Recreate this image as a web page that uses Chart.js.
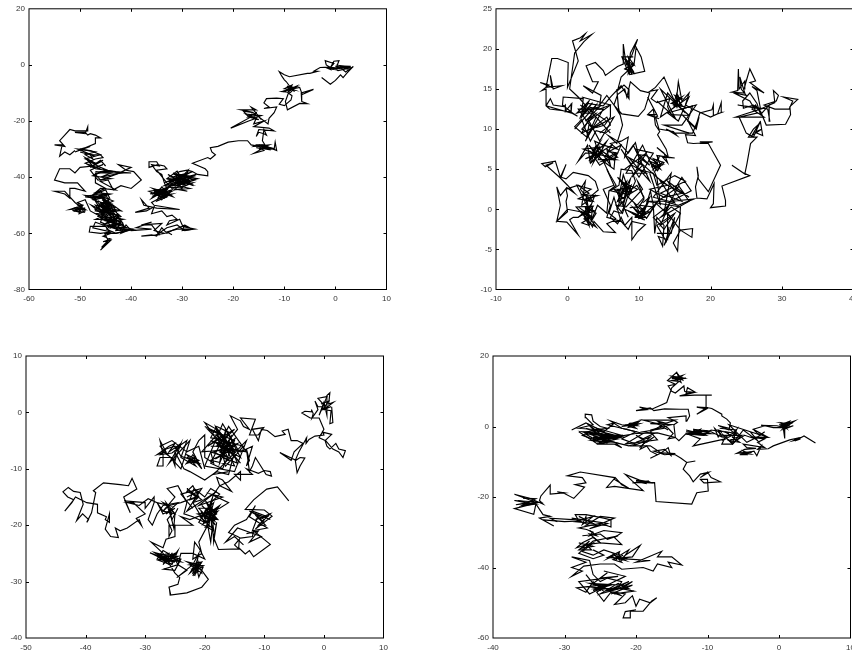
<!DOCTYPE html>
<html><head><meta charset="utf-8">
<script src="https://cdn.jsdelivr.net/npm/chart.js@4"></script>
<style>
html,body{margin:0;padding:0;background:#fff;width:852px;height:657px;overflow:hidden}
canvas{position:absolute}
#wrap{position:relative;width:852px;height:657px;overflow:hidden}
</style></head><body><div id="wrap">
<canvas id="c1"></canvas><canvas id="c2"></canvas><canvas id="c3"></canvas><canvas id="c4"></canvas>
</div>
<script>
const xTicks1=[-60,-50,-40,-30,-20,-10,0,10];
const yTicks1=[-80,-60,-40,-20,0,20];
const xTicks2=[-10,0,10,20,30,40];
const yTicks2=[-10,-5,0,5,10,15,20,25];
const xTicks3=[-50,-40,-30,-20,-10,0,10];
const yTicks3=[-40,-30,-20,-10,0,10];
const xTicks4=[-40,-30,-20,-10,0,10];
const yTicks4=[-60,-40,-20,0,20];

const walk1=[[-2.7,-4.5],[-1,-6.9],[0,-5.5],[1,-3.5],[1.5,-4.5],[2.2,-3],[3.5,-.5],[2,-2.5],[1,-1],[3,-.5],[.3,-.3],[.7,1.5],[-.3,1.3],[-1,-1],[-.3,.5],[-2,1.5],[-1.8,0],[-.5,-1.5],[-2,-.8],[-1,-1.6],[-1.3,-.8],[-3,-.9],[-4.2,-2.2],[-3.5,-2.3],[-5,-3],[-5.5,-3],[-9,-4.2],[-10,-3.5],[-11,-2.4],[-10.5,-4],[-10,-5.3],[-9.6,-6],[-9,-7.5],[-8.3,-8],[-10,-9.5],[-8.5,-7.8],[-9.8,-9.2],[-7.5,-7.5],[-8.8,-9.8],[-10.5,-9.5],[-8.2,-8.5],[-7,-8],[-6.5,-10.5],[-4.3,-8.7],[-6.7,-10],[-6.6,-13],[-5.5,-13.8],[-7,-13.7],[-9.4,-16],[-9.8,-13],[-9.2,-10],[-8.5,-11],[-8.7,-12.5],[-10,-14.5],[-11,-14],[-10.2,-12],[-11.5,-11.8],[-13.5,-12],[-14,-13.5],[-13,-15],[-14,-15.5],[-11.5,-15],[-12,-17],[-13,-19],[-13.2,-21],[-15,-18.5],[-14.5,-19.5],[-16.5,-15],[-15.5,-16],[-18.5,-16],[-16,-17],[-18,-16.5],[-17,-18.5],[-15,-19.5],[-16.5,-18.5],[-20.5,-22.5],[-17,-20],[-15.5,-19],[-16,-21],[-14,-20],[-16,-22],[-13,-22.5],[-12,-23.5],[-15,-23],[-15.5,-25.5],[-15,-24],[-14,-24.5],[-13.5,-25],[-14,-23],[-14.3,-27],[-13.8,-28.5],[-15.5,-28.5],[-16,-29],[-13,-28.5],[-15,-30],[-13.5,-29],[-11.5,-30.5],[-11.8,-27.5],[-12,-30],[-14,-29.5],[-16,-31.5],[-14,-30.5],[-15,-29],[-16.5,-28.5],[-17.2,-27],[-19,-27],[-21,-27.5],[-23,-29],[-24.5,-29.5],[-24.2,-31],[-23.5,-32],[-24.5,-33.5],[-25,-33],[-28,-35],[-25.5,-37],[-25,-38],[-25,-39.5],[-27,-39],[-28,-38],[-29,-37.5],[-30.5,-38],[-31.5,-39],[-29,-39.5],[-32,-41],[-28,-40],[-31,-42.5],[-29,-41],[-33,-40.5],[-28.5,-42],[-30.5,-40],[-32,-43],[-28,-42],[-30,-43.5],[-32.5,-42],[-29,-38.5],[-31,-41],[-30,-44.5],[-29,-45],[-32,-44],[-33,-42],[-35,-37.5],[-33,-37],[-33.5,-36],[-34.8,-35.5],[-36.5,-36.5],[-36.5,-34.5],[-35,-34.5],[-34.5,-36],[-36,-35.5],[-35,-38],[-34,-39],[-33.5,-42],[-33,-44],[-35,-44.5],[-33,-46],[-35.5,-45],[-33,-47],[-34.5,-47.5],[-32,-45],[-36,-46],[-33,-44.5],[-34,-46.5],[-32,-46],[-35,-48],[-36,-49],[-35.5,-50],[-30.5,-51.5],[-35,-51],[-37.5,-50],[-38,-48],[-36.5,-51],[-39.2,-52.5],[-37,-52],[-35.5,-50.5],[-36,-53],[-34,-52],[-33,-54],[-32,-53.5],[-31,-55],[-32.5,-55.5],[-33,-57],[-30.5,-55],[-30,-57],[-28,-58.5],[-29.5,-57],[-30,-59],[-27.5,-58.5],[-30,-57.5],[-32,-59],[-33,-60],[-34,-58],[-35,-61],[-36,-60.5],[-38,-61],[-34.5,-60.5],[-36,-57],[-37.5,-57],[-39,-58],[-36,-58.5],[-40,-59],[-41,-57],[-42,-60],[-40,-58.5],[-43,-59],[-42,-56],[-44,-58],[-42.5,-54],[-44.5,-56],[-41.5,-55],[-45,-54],[-43,-52],[-46,-55],[-43.5,-56],[-46,-52],[-44,-50],[-45.5,-53],[-47,-50],[-42,-52],[-45,-48],[-47,-52],[-44,-53],[-46,-49],[-44.5,-51],[-43,-55],[-45.5,-57],[-47,-56],[-47.5,-58],[-44,-59.5],[-46,-60],[-48.2,-59.5],[-48,-57.5],[-45,-57.5],[-44,-60],[-45.5,-61],[-44,-62],[-45.5,-63],[-44,-62.5],[-46,-66],[-44.5,-63],[-45.8,-65],[-44.5,-62.5],[-45.2,-60],[-43,-60],[-41,-59],[-44,-57],[-42,-57],[-46,-54],[-48,-52],[-49,-48],[-50.5,-49],[-49.5,-50],[-52,-51.5],[-49,-51],[-51,-52],[-50,-50],[-50.2,-53],[-49,-52],[-51,-49],[-52,-47],[-53,-45],[-55,-45],[-53,-46],[-52,-47.5],[-52,-44],[-51,-44],[-49,-45],[-50.5,-42],[-53,-42],[-55,-41],[-54,-37],[-52,-37],[-51,-38.5],[-50,-36.5],[-47.5,-36],[-49,-33],[-47,-35],[-48.5,-34],[-46,-36.5],[-44,-38],[-46,-38],[-47,-39],[-46,-41],[-43,-39],[-40,-36.5],[-42.5,-35.5],[-41,-37.5],[-39.5,-38],[-38,-41],[-40,-44],[-42,-43],[-43.5,-44.5],[-44.5,-41],[-46,-41.5],[-43,-44.5],[-46,-44],[-48,-47],[-46,-45],[-45,-47],[-47,-48],[-49,-46.5],[-46,-47],[-44,-46],[-47,-45.5],[-45,-44],[-47,-42],[-47,-38.5],[-44,-38.5],[-40,-38.5],[-43,-38],[-47,-37],[-48,-36],[-46,-37],[-49,-35],[-47,-33.5],[-45.5,-33],[-46,-32],[-48,-32],[-47.5,-33.5],[-49,-32],[-47,-31],[-50,-30],[-48,-29],[-51,-31],[-49,-29.5],[-47,-28],[-47,-26],[-46,-26],[-47,-25],[-48,-24.5],[-48.5,-25],[-49,-24],[-51,-24],[-49,-24.5],[-48.5,-22],[-48.5,-23.5],[-51,-23.5],[-52,-23],[-53,-25],[-54,-27],[-53,-29],[-55,-28.5],[-53.5,-28.5],[-54,-32.5],[-53,-31],[-52,-32],[-51,-30.5]];
const dense1a=[[-31.5,-39],[-28.5,-41.5],[-32,-40],[-29,-38.5],[-33.5,-42],[-30,-39.5],[-27.5,-41],[-31,-43],[-28,-39.5],[-32.5,-41.5],[-29.5,-42.5],[-31,-37.8],[-33,-40.5],[-28.2,-42.5],[-30.5,-40.5],[-27.2,-39],[-32,-43],[-29.5,-40],[-31.2,-41.8],[-28.8,-37.5],[-30,-43.8],[-33,-43.5],[-29,-41],[-31.8,-38.5],[-27.8,-43],[-30.2,-41.3],[-32.8,-39],[-29.3,-43],[-31,-40.2],[-28,-38],[-33.5,-43],[-30,-42],[-31.5,-44.5],[-28.5,-44],[-32,-42.5],[-30.8,-38.8],[-29,-39.8],[-27,-40.5],[-30.5,-41.7],[-32.3,-40.8]];
const dense1b=[[-33,-44],[-35.5,-46.5],[-32.5,-46],[-34.5,-44.5],[-36.5,-45],[-33.5,-47.5],[-32,-44.5],[-35,-46],[-33.5,-45],[-36,-47.5],[-34,-43.5],[-31.8,-47],[-35,-45],[-34,-48],[-32.8,-45.5],[-35.8,-44],[-33.2,-46.8],[-34.6,-47],[-32.5,-43.5],[-36.3,-46],[-33.8,-44.5],[-35,-48.5],[-33,-47]];
const dense1c=[[-46,-47],[-44,-50],[-47.5,-48],[-45,-46],[-43.5,-52],[-46.5,-50],[-44.5,-48],[-47,-51.5],[-42.5,-52],[-45.5,-53],[-47.5,-47],[-44,-54],[-46,-49],[-42,-55],[-45,-51],[-43,-57],[-46.5,-54],[-43.5,-50.5],[-41.5,-57],[-45,-55.5],[-42.5,-53.5],[-46,-52],[-44,-57.5],[-41,-58],[-44.5,-53],[-47,-55],[-43,-55],[-45.5,-57],[-42,-59],[-44,-52],[-46.8,-53],[-41.8,-56],[-44.7,-50],[-46,-56],[-42.8,-58.5],[-45.2,-49],[-43.5,-53.5],[-47.8,-50],[-44.2,-55.5],[-42,-54],[-45.7,-48],[-43,-51],[-46.2,-46.5],[-44.5,-46],[-48,-46.5],[-45.5,-47.5],[-49,-47],[-46.8,-47.5],[-44.2,-47.5],[-45,-44.5],[-47,-46],[-43.5,-48.5],[-46,-50.5],[-42.8,-55.5],[-44.8,-58.5],[-43,-60],[-40.5,-59],[-43,-58],[-39,-59],[-42.5,-57]];
const dense1d=[[-9.5,-8],[-8,-9],[-10,-8.5],[-8.5,-7.2],[-9.2,-9.5],[-7.8,-8],[-10.3,-9.5],[-8.8,-8.5],[-9.5,-7.5],[-8,-9.5],[-9,-8]];
const dense1e=[[-16,-28.8],[-13,-29.5],[-15,-28.5],[-12,-29.8],[-14.5,-29.5],[-12.5,-30],[-15.5,-29.5],[-13,-30.2],[-14,-28.8],[-11.8,-30.2]];
const dense1f=[[-50.5,-50],[-49,-51.5],[-51,-51],[-49.5,-50],[-50,-52.5],[-51.5,-51.8],[-49.2,-52.5],[-50.5,-49]];
const dense1g=[[-16.5,-17.5],[-15,-18],[-17,-18.5],[-15.5,-17],[-16,-19],[-14.5,-18],[-17.5,-17.5],[-15.2,-19.5]];
const dense1h=[[-1.5,-.8],[1,-1.2],[-1,-1.5],[2,-1],[0,-.5],[2.5,-1.5],[1,-.3],[3,-1],[.5,-2],[-.5,-1]];
const dense1i=[[-47,-38],[-44,-38.5],[-46,-40],[-42,-38.5],[-45,-37.5],[-47.5,-39.5],[-44,-40.5],[-46.5,-41],[-48,-37.5],[-45.5,-35.5],[-47,-36.5]];
const detail1j=[[-48,-32],[-50,-31],[-47,-32.5],[-50.5,-30],[-48,-30.5],[-46,-32],[-49,-33.5],[-47,-35],[-45.5,-34],[-48,-36.5],[-46,-34],[-45,-36]];
const detail1k=[[-36,-56],[-38,-57],[-34,-56.5],[-35.5,-59],[-33.5,-60],[-35,-60.5],[-33,-58],[-31,-57],[-29.5,-59],[-28,-58.5],[-31,-58.5],[-33,-59.5],[-32,-60.5]];

const walk2=[[27,12],[26.3,13],[25.8,12.5],[27.5,11.5],[23.5,11.5],[27,12.5],[23.8,13],[28,12.5],[28.3,11],[28.2,13],[27,11.8],[26.5,13.2],[25.5,14.5],[24.5,13.5],[24.6,12.6],[26,13],[27,12.2],[27.8,10.5],[30.5,10.6],[31.2,11.8],[31.1,12.8],[32.2,13.7],[30.2,14],[31.5,13.5],[31,12.5],[29,12.5],[27.5,13],[29.2,13.5],[29.5,14.2],[28.8,14.8],[29,13.3],[27,12.5],[26.5,14.8],[25.8,15.3],[27.5,14.5],[25.5,15.8],[26.3,16],[25.5,17.5],[25,16],[24.7,15],[24.8,16],[24,15],[23.9,17.5],[23.8,14.8],[23,14.6],[24.8,14.5],[24.1,16.5],[24.3,15],[25,14.2],[23.3,14.5],[25.5,13.5],[26.5,12],[24,11.5],[24.5,10.5],[25,9.5],[26,9],[27,11],[25.8,9.2],[27.2,10],[26.2,9.6],[27.3,9.2],[27,10.8],[26,10],[25.3,9],[26.5,9],[25.6,8.2],[25.1,5.7],[24.8,4.4],[23,5.5],[24.5,4.6],[25.5,4.2],[21.6,2.9],[22.1,1.1],[22.1,.4],[20,.2],[20.4,.7],[20.5,3.2],[19.5,1.3],[18.1,1.4],[17.9,2.8],[18.3,4.2],[18.1,5.3],[18.3,3.8],[19.7,2.2],[21.4,5.5],[19.7,8.2],[18.5,8.2],[20.3,8.4],[18.5,8.4],[19.5,8.3],[17.6,8.2],[16.8,8.3],[16.5,9.3],[17.9,9.2],[16.8,11.1],[16,11.8],[17.9,10.2],[18.5,12],[20.2,12.4],[20.4,13],[20.4,11.7],[21.6,12.1],[21.5,13.3],[21,11.9],[20,11.5],[17.5,12.5],[16.5,13],[17,14.5],[16,13.5],[15.5,15.9],[15.2,13.3],[16,14],[14.5,13.2],[15.8,13],[15.3,14.5],[14.8,13],[16.3,12.8],[15.1,13.2],[13.5,16.5],[12.3,15.2],[11.5,14.7],[12.6,14.9],[11.7,13.8],[12.5,13.3],[14.3,13.8],[14,12.8],[14.5,11.8],[17,11.7],[16,12.5],[17.5,12.9],[16.8,11],[18,10],[18.4,11.5],[17.5,9.5],[15,9.5],[13.8,10],[15.3,9.2],[14.8,9.7],[12.8,10],[12.3,11.5],[12.6,11.6],[11.2,14],[12.5,11.8],[11.5,11.8],[12.8,11.3],[11.2,11.8],[12,12.5],[12.3,10.5],[12.9,9.7],[12.6,9.3],[13.8,7.5],[14.1,6.5],[12.5,7.7],[13.5,7],[14,5.8],[13.3,6.5],[15,6.4],[12.5,6.7],[13,5.5],[11.5,6],[12.6,4.8],[13.2,5.8],[12,5],[12.5,5.8],[11,6.7],[10,6.8],[11.5,5.5],[10,6.5],[9.8,5],[12,4.5],[12.5,3],[15,4.2],[16.5,3.5],[13,2],[16,1],[14,3.5],[17,1.5],[15,2.5],[16,4],[17.3,2.3],[14.5,1],[17.7,1.3],[15.5,.5],[13.5,1],[11,1],[15.8,.3],[15.4,-5.2],[14.8,-4.2],[15.8,-2.6],[17.5,-2.4],[17.4,-3.5],[15.8,-2.6],[14,-.5],[14,-3.8],[12.7,-3.4],[13.3,-4.6],[13.5,-2],[12.5,-1],[12.2,-3],[12,.5],[11.6,2.3],[10.5,-1],[9.5,.5],[11,-.5],[9.8,-1],[10.8,-1.3],[9,-.5],[10.2,-.8],[8,0],[8.5,-1],[7,2],[8.3,3.5],[8,1.5],[9,2.5],[8,3],[7,4],[8.5,2.2],[9.7,3],[10.7,1.5],[9.7,.5],[8.5,1.5],[9.5,3.5],[9,4.8],[7.5,5],[7.2,3],[6,2.3],[7.5,2],[7,1],[8,.5],[7.5,-.5],[6.5,-.2],[6,-1],[7,-1.8],[7.5,-1],[8,-2],[9,-1],[9,-3.8],[9.8,-2.8],[10.9,-1.9],[9,-1.5],[8.5,-2.5],[7.5,-1.5],[6.3,-1.5],[5.5,-1.8],[6.7,-2.9],[5,-2.8],[3.7,-1.5],[3.5,-2.2],[2.2,-.5],[3.3,-1],[2,-1.7],[3,-2],[4,-.5],[3,0],[1.5,-1],[.8,-1],[.3,-1.3],[1.5,-3.2],[-.1,-1.6],[-1.5,-1.5],[0,-.3],[-.2,1],[0,1.7],[-.2,2.5],[1.5,3],[3,2],[1.5,1.3],[3.2,1],[1.8,2.5],[2.5,3.5],[2,.5],[3.8,1.7],[3,-.2],[2.7,1.2],[4.3,2.4],[3.9,3.5],[2.9,4.2],[.8,4.6],[-.2,3.8],[-.9,4],[-.2,5.6],[-1,4],[-1.7,6],[-3.6,5.7],[-3.1,5.3],[-2,5.8],[-3,5.5],[-1,3.9],[0,3],[1,2],[-.1,2.7],[-1,1.7],[-1.5,2.8],[-1,.5],[-1.5,-1.5],[0,0],[1.8,-.3],[3,-.7],[2.5,.3],[3.5,.3],[3.3,-1.5],[4.2,.5],[5.5,-.5],[5.8,2.3],[6.8,3],[5.8,4.5],[5,6],[6.5,5],[6.7,7],[4.8,6],[7,6.5],[5.5,7.5],[6,5.5],[4.6,7.3],[3.6,5.8],[4.3,7.6],[3.3,6.3],[4,8],[3.5,7],[2.5,7],[1.5,6],[2.8,8],[3.2,5.8],[4.5,6.8],[3.8,8.5],[5,8],[7,7.5],[6,8.2],[7.5,8.5],[8.5,9],[8,6.5],[9.2,8],[10,6.5],[9.5,8.3],[8.5,7],[7,8.5],[5.7,9.2],[6.9,8.2],[7.7,10.5],[7.1,12.8],[6.9,15],[7.2,12],[6.5,13],[7.6,11.9],[9.9,11.6],[10.8,12.5],[11.5,14.5],[10.2,14.8],[8.8,15.9],[8.3,14],[8,15],[7,14.3],[6.5,13],[5.5,14.2],[4.5,13],[4.7,14.2],[2.2,15.4],[3.5,14.5],[4.3,15.9],[3.5,15.9],[2.6,17.9],[3.9,18.3],[5,17.3],[5.3,16.7],[7,17.8],[7.8,18.1],[7.8,20.6],[8.2,18],[9,19.2],[9.8,21.2],[8.8,19.5],[8.5,17],[9.2,18.2],[8,17.5],[9.3,17],[8.3,18.5],[8.7,16.8],[10.8,17.2],[10.3,19],[9.6,20.2],[9.3,18],[7.5,16.5],[7,14.8],[7.9,15.5],[8.5,15],[8.6,13.8],[7.5,15.4],[6,14],[5,12.9],[2.8,13.2],[2,12],[2.2,13.8],[-.6,14],[-.7,13],[.7,12],[1.4,11.6],[.2,12.2],[-2.5,12.5],[-3,12.9],[-2.4,13.8],[-2,13],[-.5,12.8],[-.3,13],[-.3,12.2],[.6,13.2],[.5,12],[-3,12.9],[-3,15],[-3.6,14.8],[-2.6,15.5],[-3.8,15.8],[-2.2,15.2],[-2.4,16.7],[-2,15],[-.8,15.4],[-3,15.2],[-2.2,18.8],[-1.4,18.8],[.1,18.3],[0,15.2],[1.5,18.5],[1.1,19.8],[.7,21],[1.8,21.4],[2.5,21.9],[1.8,21],[3.4,21.8],[2.3,20.9],[1,19.5],[.3,15],[1.5,14],[2.5,13],[1.8,11.5],[3.2,12.7],[4.5,12.5],[6,13],[6,11.5],[5.2,10.5],[4.1,10.2],[3,10.5],[2.7,9],[1,10.3],[2,11.2],[2.5,10],[3.2,8.5],[4,9.8],[5.3,9.5],[6,10]];
const dense2a=[[7.5,3.5],[9.8,2.5],[7,1],[8.8,3.8],[7.8,.5],[8.3,2.8],[6.8,2.3],[9,2.2],[7.2,3.9],[8.6,1.9],[7.5,2],[8.2,3.2],[7,.2],[8,1.2],[6.5,2.5],[8.5,2.5],[7.8,4.3],[7.2,1.6],[8.9,3],[7.7,-.5],[6.8,.5],[8.2,.3],[10.5,2.5],[9.8,3.5],[10.7,1.3],[10,.3],[8.7,.2]];
const dense2b=[[8.5,-.2],[10.5,-1.2],[9.2,.2],[11,-1],[9.5,-1],[10.8,.2],[10,-1.1],[11.5,-.3],[9.8,-.3],[10.5,-.6],[11.2,.7],[9.6,-.8],[10.9,-.5],[10,.5],[12,.3],[11,-1.2],[12.5,.8],[10.2,-1],[11.5,1.5],[10.5,.8]];
const dense2c=[[3,6],[4.5,8.3],[3.5,7.3],[5,6],[3,8],[4.2,6.5],[5.5,8.5],[3.7,6.8],[2.5,6.3],[4.8,7],[3.3,5.8],[4,7.8],[6,6.5],[3.6,7],[2.2,7.5],[5,7.8],[4.3,6.2],[6.8,6.2],[5.3,6.6],[6.2,8],[4,6.8],[3.2,7.2],[4.5,5.5],[7,7],[5.8,7.2],[7.5,8],[6.5,6]];
const dense2d=[[1.5,.3],[3.5,-1],[2,-.3],[3,-2],[2.5,.2],[3.8,-.2],[1.8,-.8],[3.2,.5],[2.8,-.7],[4,-2.2],[2.3,-1.2],[3.6,.4],[1.2,.3],[3,-1.5],[2.6,1.8],[3.6,1],[2.2,1.2],[4.2,1.7],[2,1.8],[3.3,2.5],[1.3,3],[2.7,.5]];
const dense2e=[[11.5,5.8],[13,5],[12,6.3],[13.5,5.8],[12.3,4.8],[12.8,6.5],[11.8,5.3],[13.2,5.5],[12.5,5.2]];
const dense2f=[[8,17.5],[9.2,17.2],[8.3,18.5],[9,16.8],[8.5,19],[9.3,18],[8,18.7],[9,17.5],[8.6,16.9],[7.6,19],[9.2,19]];
const dense2g=[[14.8,13.3],[16,13.8],[15,14.2],[16,13],[14.9,12.8],[15.5,14],[15.3,12.6]];
const dense2h=[[1.8,13],[3.2,12],[2.2,12],[3.5,13.3],[2,11.5],[3,13.5],[1.3,12],[4.5,12.8],[2.5,11],[3.8,11.8],[2,10],[3,9.5],[4,10.5],[5.5,11.5],[6,10.5],[4.5,9.5]];
const dense2i=[[11.5,4.5],[13,.5],[12.5,4],[14,3],[11.5,2.5],[13.5,1.5],[16,2],[13,3.5],[15,.8],[12,1.5],[14.5,4.5],[13.5,-.5],[15.5,2.8],[12.3,.8],[14.5,-1],[13,-2],[14.2,.5],[12,-1],[13.5,-2.5],[15,-.5],[12.5,-2],[13.8,-4],[14.2,-2.2]];
const detail2a=[[1,10],[4,13],[2,9.5],[5.5,11],[3,12.5],[6,9.5],[4,11.5],[2.5,8.5],[5,12.5],[1.5,12.5],[3.5,10],[6.5,11.5],[4.5,8.5],[3,11],[6,13],[2,14]];
const detail2b=[[8,5],[11,7],[9,4],[10.5,5.5],[8.5,6.5],[11.5,3.5],[9.5,7.5],[12,7],[10,4],[7.5,7.5],[9,5.5],[11,4.5],[8.2,4.5],[10.5,8],[12.5,4],[10,6]];
const detail2c=[[12.5,13.5],[15,11.5],[13,15],[16.5,12],[14,14.5],[13,11.5],[17,14],[15.5,11],[14,12],[18,13],[16,10.5],[13.5,10.5],[17,9.5]];
const detail2d=[[5.5,5],[6.5,3],[5,2.5],[6,.5],[5.5,-1],[7.5,-1.5],[6.5,1.5],[5.8,-.5],[6.8,-1.2]];
const detail2e=[[12.5,-3],[14.5,-3],[15,-1],[13.5,-4.5],[15.8,-.5],[14.5,.3],[13,-1],[16,.5],[17,1],[15.5,3],[16.3,2]];

const walk3=[[-5.9,-15.7],[-7.8,-13.2],[-9.6,-13.6],[-11.8,-15.5],[-13.2,-17.2],[-10,-17.3],[-8.7,-18.4],[-11.5,-20.7],[-10,-19],[-12.5,-17.5],[-9,-19],[-11,-18.2],[-12,-21],[-9.5,-20.5],[-12.5,-18.5],[-11.5,-16.5],[-13,-19],[-15,-20],[-16,-21.3],[-14.5,-22],[-14,-22.3],[-12,-22],[-11.8,-21],[-9,-23.4],[-11.8,-25.6],[-12.5,-24.5],[-13.2,-25.1],[-14.3,-24],[-14.2,-22.5],[-15,-23.5],[-14.3,-24.2],[-17.7,-24.3],[-18.5,-22.2],[-18,-19.5],[-18.5,-23],[-18.7,-20],[-19,-23],[-19.5,-20],[-21,-23],[-20.5,-25],[-22,-26],[-21.7,-23],[-21,-24],[-20,-26],[-22,-25],[-23,-25],[-24,-25],[-24.5,-27],[-25.5,-25],[-27,-27],[-26,-25],[-28,-25.5],[-26,-27],[-24.5,-26],[-27,-24.5],[-28,-26],[-25,-26.5],[-29.2,-24.9],[-27,-26],[-26,-25.5],[-24,-26],[-25,-28],[-26.9,-27.8],[-24.5,-27],[-23,-28],[-24.7,-29.3],[-22,-27],[-21,-25],[-21.6,-28],[-20.5,-26.5],[-22.5,-27],[-20.2,-27.2],[-22,-28.5],[-21.2,-26],[-21.7,-29],[-21,-27],[-23,-26.5],[-20.5,-28],[-19.4,-29.6],[-20.5,-31],[-23,-32],[-25.8,-32.4],[-25.9,-31.5],[-25.7,-32.4],[-26,-31],[-24.5,-30.5],[-24.2,-29.3],[-25,-28.5],[-27,-25],[-29,-23],[-27,-24],[-26.5,-22.5],[-25,-22],[-25,-20],[-26,-20],[-26,-22],[-25.5,-21],[-26.3,-19],[-25.5,-18],[-26,-17],[-25.2,-20.5],[-25,-18],[-27,-16],[-26,-16.5],[-28,-16],[-27,-18],[-25,-17],[-26.5,-18],[-24.5,-16],[-27,-16.5],[-28,-18],[-28.8,-20],[-29.5,-19],[-28.5,-16],[-28.5,-15],[-30,-17],[-30,-16],[-33.4,-15.7],[-32.5,-17.8],[-33.6,-15],[-31.4,-13.6],[-32.2,-11.7],[-32.8,-13],[-34.2,-12.8],[-37,-12.5],[-38.7,-13.9],[-38.3,-14.2],[-39,-17.8],[-39.8,-19.5],[-39.5,-19],[-40.5,-18],[-41.5,-19.2],[-40.4,-16.3],[-40.9,-14.2],[-42,-14],[-42.9,-13.3],[-43.8,-14.1],[-43,-15],[-42,-15.5],[-43.5,-17.5],[-42.3,-16],[-41.7,-15],[-39.8,-16],[-38,-16.3],[-38,-17.8],[-36.5,-18.5],[-36.7,-19],[-36,-19.5],[-36,-18],[-36.7,-20.7],[-35.8,-22],[-34.5,-22.2],[-35,-20.5],[-34.2,-21],[-33,-20.5],[-31,-19],[-30.6,-20.1],[-31.5,-18.8],[-30,-18],[-32,-16],[-33,-16],[-31,-16.5],[-29.5,-15.3],[-28,-16],[-27,-17.5],[-25,-15],[-26.3,-13.5],[-24.5,-13],[-24,-14],[-23,-16],[-23.5,-18],[-22,-18.5],[-21,-19],[-20,-19.5],[-22,-16],[-21,-15],[-23,-14],[-22,-13],[-21,-15],[-22.5,-15.5],[-21.8,-13.5],[-20,-15],[-19,-13.5],[-17.5,-14.5],[-19,-16],[-18.5,-14.5],[-17.5,-13],[-15.5,-14],[-17,-12],[-18,-11.5],[-17.5,-13],[-16,-12.3],[-14,-10.5],[-14,-12],[-15,-11],[-12,-11],[-13,-10],[-11,-10.8],[-10,-10.3],[-9,-10.5],[-8.8,-11.3],[-9.7,-11],[-11.5,-8],[-12,-9.5],[-12.5,-10.5],[-13,-6.5],[-12.5,-8.5],[-13,-9.5],[-12,-6],[-14,-7],[-15.5,-6.5],[-14.5,-9],[-17,-8],[-16.5,-7],[-18,-5.5],[-16,-4],[-18.5,-4],[-20,-1.8],[-18,-3],[-16.5,-5],[-19,-4.5],[-18,-2.5],[-16,-3.5],[-17,-6],[-19,-6],[-15,-6],[-17.5,-7],[-16,-8],[-19,-7],[-18.5,-9],[-20,-8],[-20,-4],[-21,-5],[-22,-7],[-20.5,-10],[-22,-8],[-23,-9],[-21,-8.5],[-23,-7.5],[-21.5,-9.5],[-24,-8],[-23,-5],[-25,-6.5],[-24,-5.5],[-26,-7],[-25,-5.5],[-26,-6],[-28,-7.5],[-26.5,-7],[-27.5,-5],[-27,-7.5],[-27,-9.5],[-28,-9.5],[-27.5,-8],[-25.5,-8],[-25,-9.5],[-25,-7],[-23.5,-10],[-22.5,-10.5],[-20,-12],[-18,-10.5],[-16,-11],[-15,-7],[-16,-5],[-14.5,-3],[-15.7,-.6],[-14,-1.5],[-13.5,-2.5],[-12.5,-3],[-14,-1],[-11.5,-1.2],[-12.5,-4],[-11,-4],[-10.1,-2.7],[-12,-3],[-11,-5],[-10.5,-3],[-9.5,-3.2],[-8.2,-4.3],[-6.5,-3.9],[-7,-3.3],[-6,-3],[-5.5,-5],[-4.5,-5],[-3.5,-5.5],[-5,-7],[-5.5,-8.5],[-7.4,-7.1],[-4.7,-8.5],[-4,-8],[-3.2,-8.1],[-4,-9.5],[-4.5,-10.7],[-4.8,-8.5],[-4.2,-7],[-2.9,-4.5],[-3,-5.5],[-2.5,-4.8],[-1.5,-4.2],[0,-4],[-.2,-3.5],[1.3,-3.9],[.2,-5],[.5,-6],[1,-6.5],[2,-5.5],[2.5,-6.5],[3.6,-6.8],[3.2,-8],[2.5,-7],[1.5,-6.5],[.3,-5],[-.8,-4.5],[0,-3],[-.8,-1],[-2.3,-1],[-3.7,-.1],[-3.2,.2],[-2,.1],[-2.1,.5],[-1.8,-.2],[-2,-1],[-1,.5],[-1.5,2],[-1,1],[-.2,1],[-.8,-.5],[0,1.8],[.5,-.5],[.5,3],[1,3.5],[.8,1.5],[1.6,1.8],[0,.5],[1.2,.3],[1,-2],[1.5,-1.8],[1.3,1]];
const dense3a=[[-20.5,-16.5],[-18,-19],[-20,-17.5],[-18.5,-16],[-19.5,-19.5],[-17.8,-17.5],[-20.8,-18.5],[-18.8,-20.5],[-19.2,-16.5],[-18,-18],[-20.3,-19.8],[-19,-17],[-21,-17],[-18.2,-20],[-19.5,-18],[-17.5,-16.5],[-20,-20.5],[-19,-18.8],[-21.2,-18],[-18.5,-17.5],[-19.8,-15.8],[-18.3,-19.3],[-20.5,-17.8],[-19.3,-20.2],[-18.8,-15.5],[-20,-18.8],[-17.8,-19],[-19.5,-17],[-21,-19.5],[-18.5,-21],[-19,-16.2],[-20.2,-18],[-18,-17],[-19.6,-19],[-18.9,-17.8]];
const dense3b=[[-22.5,-27],[-20.5,-28.5],[-21,-26.5],[-22,-29],[-20.8,-27],[-22.5,-28.5],[-21.5,-26.8],[-21,-29.2],[-20.3,-27.5],[-22.2,-27.8],[-21.3,-28.5]];
const dense3c=[[-28,-25],[-25,-26.5],[-27.5,-25.5],[-24.5,-25.5],[-26.5,-26.5],[-25,-25],[-27,-26],[-24,-26.5],[-26,-25.5],[-28.5,-24.8],[-25.5,-27],[-24.5,-24.5],[-26.2,-26.8],[-27.8,-26.2],[-25.2,-25.8]];
const dense3d=[[-18,-3],[-16,-6],[-19,-5],[-15,-7],[-17.5,-4.5],[-16,-8.5],[-18.5,-7],[-14.5,-5.5],[-17,-7.5],[-15.5,-4],[-17.5,-9],[-16.5,-3],[-14,-8],[-18,-5.5],[-16,-7],[-19,-8.5],[-15,-9.5],[-17,-5],[-13.5,-6],[-16.5,-9.5],[-18.2,-2.5],[-15.2,-6.5],[-17.8,-8],[-14.8,-4.5],[-16.8,-6.5]];
const dense3e=[[-23,-8],[-21,-9],[-22.5,-8.8],[-21.5,-7.8],[-23,-9],[-22,-7.5],[-21.2,-8.7],[-22.8,-8.2],[-24,-7.8],[-25,-6],[-26.5,-6.5],[-27.5,-7.5],[-25.5,-7.2],[-24,-6]];
const dense3f=[[-23,-15],[-21,-14],[-22,-16],[-20.5,-15.5],[-23,-13.5],[-21.5,-15],[-24,-16],[-26,-16.5],[-27,-17.5],[-25,-18],[-26.5,-16],[-25.5,-19],[-24.5,-17]];
const dense3g=[[-12,-17.5],[-9.5,-18.5],[-11.5,-19],[-9,-18],[-11,-20],[-9.8,-20],[-11.5,-18.2],[-10,-19.5]];
const dense3h=[[-.5,1.5],[.8,2],[-.2,.5],[1.2,1],[-.3,.7],[.5,2.8],[-1,2.5],[.3,1]];
const detail3a=[[-20,-2.5],[-17,-4],[-19.5,-6],[-15,-3],[-18,-6],[-13,-7],[-16,-2.5],[-19,-9],[-17,-10],[-15,-5],[-19.5,-3],[-14,-9],[-18,-4],[-20.5,-7],[-14.5,-6.5],[-17,-2],[-20,-9.5],[-15,-10.5],[-13,-5],[-18.5,-11],[-16,-10.5]];
const detail3b=[[-22,-17],[-24,-14.5],[-20.5,-13.5],[-23,-17.5],[-18,-14],[-21,-16.5],[-17,-15],[-19,-14.5],[-16,-16],[-17.5,-17],[-22.5,-19],[-24,-18.5],[-22,-20],[-23.5,-20],[-25.5,-20]];
const detail3c=[[-27,-7],[-25,-8.5],[-24,-5.5],[-26,-9],[-22.5,-5],[-24,-10],[-27.5,-6],[-25.5,-5],[-23,-7],[-21,-6],[-20,-10]];
const detail3d=[[-13,-21.5],[-11,-21],[-12.5,-23],[-10.5,-22],[-14.5,-20.5],[-16.5,-23],[-15,-22],[-13.5,-23.5]];

const walk4=[[5.1,-4.7],[3.5,-2.7],[2.2,-4.1],[3,-3.5],[2,-4],[2.8,-3.2],[1.5,-3.8],[-.8,-5.5],[-1.5,-6.3],[-3,-6.5],[-2.5,-5.5],[-3.1,-8.3],[-3.5,-7],[-5,-7.7],[-4,-7.2],[-5.9,-7.6],[-4.8,-6.5],[-3.2,-6.2],[-4.5,-6],[-5,-5],[-2,-6],[-3,-4.5],[-2,-3.5],[-4,-3],[-1.5,-3.1],[-3.6,-.8],[-2,.2],[-2.5,.3],[-.3,.2],[.8,-.3],[.3,1],[1,.5],[.5,-.7],[2.2,1.6],[.6,.5],[1,-.5],[.3,.5],[1.5,1.5],[.7,-.8],[2,.2],[.6,-.5],[.8,-3.4],[.8,-.3],[-.8,-.3],[-2,.2],[-3.6,-.8],[-3,-2],[-1.5,-3.1],[-3.5,-3.4],[-4.8,-2.5],[-6,-4],[-6.5,-3],[-5.9,-.8],[-6.5,-2],[-7.5,-3],[-8,-5],[-6.5,-5],[-5.5,-3],[-6.5,-1.5],[-7,-.5],[-8.5,.3],[-7,-1],[-6.8,1],[-7.3,2.1],[-8,3],[-8,3.5],[-9.4,5.1],[-10.1,5.4],[-11.5,5.5],[-10.1,5],[-11.5,3.5],[-10.1,5.4],[-10.2,8.9],[-9.4,8.9],[-11.8,8.9],[-13.9,8.7],[-11.7,9.7],[-12.8,11],[-13,9.5],[-12,9.7],[-13.2,10],[-13.3,11.5],[-14.5,9.5],[-15,10],[-15.5,11.5],[-14.5,12],[-15.6,13],[-14.3,15.4],[-13.7,12.5],[-15,14],[-13.5,14],[-14.8,13.5],[-13,13.7],[-15,13],[-14,12.8],[-15,11],[-15.7,6.8],[-17.8,4.9],[-19.5,5.5],[-18.5,4.8],[-20,4.5],[-18,5.3],[-17.5,4.5],[-16,5],[-13.8,4.9],[-12.7,4.9],[-12.5,3],[-12.9,1.5],[-13,3],[-15.5,2.5],[-14.2,1.2],[-14.7,.5],[-14.5,-3.1],[-15.5,-3.5],[-14.8,-2],[-15.5,-.5],[-17,1.5],[-16,1],[-18,.8],[-15,.5],[-18,-1],[-16,-.5],[-19,-1.5],[-17.5,-2],[-19,-3.5],[-20,-2.5],[-18.5,-4.5],[-17.5,-3],[-19,-5],[-19.4,-6.4],[-18.5,-5.5],[-18,-7],[-17,-8],[-18,-9],[-16.5,-7.5],[-15.5,-6],[-15.2,-7.9],[-14.5,-8],[-13.7,-9],[-12.9,-10.2],[-11.7,-9.8],[-12.9,-10.2],[-13.4,-12.1],[-12.5,-14],[-12,-15.7],[-11,-13.5],[-9.8,-13],[-11,-14.5],[-10,-12.9],[-9.5,-14.5],[-8.2,-15.7],[-10.5,-16],[-11,-15],[-10,-15],[-9.9,-18.3],[-11.5,-18.8],[-12.2,-22],[-17.2,-21.3],[-17.4,-15.9],[-20,-15.8],[-18,-16],[-19.5,-15.2],[-21.5,-13.6],[-20.5,-15.5],[-19,-18.2],[-23,-17],[-24.1,-17.3],[-22.9,-14.5],[-22,-16.5],[-21,-17.5],[-23,-15],[-23,-14.5],[-27.8,-12.9],[-29.6,-14],[-27.5,-14.5],[-27,-16],[-28.5,-16.5],[-27.2,-17.2],[-28.7,-20.4],[-30,-19],[-31,-18.5],[-30,-18.8],[-32,-19.2],[-32,-16.6],[-33.3,-19.7],[-33.5,-21],[-33,-22],[-35,-20.3],[-37,-19.2],[-34,-21.5],[-36,-22.5],[-33.5,-21.5],[-37,-21],[-34.5,-22],[-37,-23.3],[-34.3,-24.9],[-34,-22],[-33,-25],[-32,-25.5],[-33.5,-26],[-31.5,-28.2],[-33,-26.5],[-30,-27],[-28,-26.8],[-28.5,-25],[-27,-25],[-24.5,-26],[-23.5,-26.5],[-23.5,-28.5],[-25,-27.5],[-28,-28.8],[-26.9,-29.2],[-26,-30],[-26.5,-31],[-24.5,-29.5],[-22,-30.1],[-23,-31.5],[-22,-33.5],[-25,-33],[-26,-31.5],[-27.5,-33],[-28.3,-34.4],[-26,-33],[-27.5,-35.5],[-26,-36.5],[-24.5,-35],[-23,-36],[-24,-37.5],[-22.4,-36],[-22,-38],[-21,-35],[-23,-37.5],[-20.5,-37],[-19.4,-33.7],[-21.5,-36.5],[-22,-37.5],[-18,-38],[-20,-38.5],[-16.4,-35.4],[-17,-37],[-15,-37],[-13.6,-39.3],[-15.5,-38.5],[-15,-40],[-17,-39],[-17.6,-41],[-19,-40],[-22,-40.5],[-23,-39],[-25,-39],[-27.3,-39.6],[-29,-42.5],[-27.5,-41],[-29,-40],[-27,-38.5],[-29,-37],[-26.5,-38],[-26,-42],[-25,-44],[-24,-43],[-22,-44],[-22.5,-46],[-21,-44.5],[-20.5,-44],[-22,-46],[-20.3,-46.7],[-23,-47.5],[-25,-45],[-28.3,-45.8],[-27,-47],[-26,-44],[-25,-46.5],[-24,-45],[-25.5,-47],[-24.5,-49.6],[-23.5,-47],[-22,-48],[-23,-47],[-21.5,-47.5],[-23,-50.5],[-21.5,-50],[-20.5,-48],[-20,-51],[-19.5,-49],[-18,-50],[-17.1,-48.6],[-17.8,-49.5],[-19,-52.4],[-20.8,-52.4],[-20.8,-54.3],[-21.8,-54.3],[-21.5,-52.5],[-20,-52]];
const walk4b=[[-12,-1],[-11,-2],[-13,-1.5],[-10,-1.2],[-12.5,-2],[-10.5,-2.5],[-9.5,-1],[-8,-1.5],[-8.5,-3],[-9,-.5],[-7.5,-3.5],[-12,-5.5],[-11,-3.5],[-13,-2],[-14,-4],[-14.5,-3.1],[-17,-1.8],[-20,-2],[-23,-3],[-25,-2.5],[-22,-2.8],[-26,-3.5],[-24,-3.5],[-22,-3],[-25.5,-2],[-27,-1.5],[-25,-1],[-28,-.5],[-26,.5],[-27,2.5],[-27.1,3.5],[-26.2,3.3],[-26,1.5],[-25,0],[-24,-.5],[-26,-1],[-27.5,-2.5],[-25.5,-4],[-24,-4.5],[-25.5,-5],[-23,-5],[-22,-6],[-23,-4.5],[-21,-5.5],[-20,-5],[-22,-3.5],[-20,-1.5],[-22,-.5],[-23.6,1.6],[-22,.5],[-21,.3],[-20,.8],[-20.5,-.3],[-19.5,1.5],[-21,0],[-20,-.5],[-21,1]];
const dense4a=[[-27,-.5],[-24,-3],[-26.5,-2],[-22,-2.5],[-25.5,-.5],[-23,-3.5],[-26,-3],[-22.5,-2.8],[-25,-4.5],[-27,-2.2],[-23.5,-2.2],[-25.8,-1],[-22,-3.2],[-24.5,-2.8],[-26.8,.8],[-24,-4.8],[-25.2,-3.2],[-21.8,-2.5],[-26.2,-4],[-23,-4.5],[-27.5,-1.5],[-24.8,-2],[-22.5,-3.5],[-25.5,-4.8],[-28,-1.5]];
const dense4b=[[-21.5,.5],[-19.5,.8],[-21,-.2],[-20,1.2],[-21.5,.2],[-19.8,.2],[-20.8,1],[-20,.5],[-22,0],[-19.5,1.6]];
const dense4c=[[-13,-1],[-10.5,-2.2],[-12.5,-1.8],[-10,-1.2],[-12,-.8],[-9.5,-2],[-11.5,-2],[-11,-.8],[-12.8,-2.2],[-10.2,-2.5],[-11.2,-1.5],[-9.5,-1.5],[-8,-3],[-8.5,-1],[-7,-2]];
const dense4d=[[-15,13.5],[-13.5,14.5],[-14.5,13.2],[-13.2,13.7],[-14.8,14.2],[-13.5,13.2],[-14.2,15],[-13.8,13.5]];
const dense4e=[[0,.5],[1.5,.2],[.2,1],[1.6,.8],[.5,0],[1.3,1.2],[.3,.2],[1.4,-.3]];
const dense4f=[[-26.5,-45.5],[-24,-46],[-26,-46.5],[-23.5,-45],[-25.5,-45],[-24.5,-46.8],[-22.5,-46],[-25.8,-46],[-23.8,-44.8],[-24.8,-45.5],[-26.5,-44.5],[-22,-45],[-24,-46.5],[-21,-44],[-23,-46],[-21,-46],[-22.5,-44.5],[-25,-47.5],[-20.5,-45],[-23.5,-47.5]];
const dense4g=[[-23.5,-37],[-21.5,-38],[-23,-36.5],[-22,-38.5],[-23.2,-37.8],[-21.8,-36.5],[-22.5,-37.2],[-21.2,-37.5],[-24,-37.2],[-22.3,-35.5],[-22.8,-38]];
const dense4h=[[-28,-33],[-26,-34],[-27.5,-34.5],[-26.5,-32.5],[-28,-35],[-26.2,-35],[-27,-33.5],[-25,-33],[-26.5,-30.5],[-25.5,-31],[-26.5,-29.5]];
const dense4i=[[-36.5,-21],[-34,-22],[-36,-22.5],[-34.5,-21],[-35.5,-22],[-33.8,-21.5],[-36.8,-22.2],[-35,-21.5],[-34,-20.5],[-35.8,-20.3]];
const dense4j=[[-28,-25.5],[-26,-27.5],[-28.5,-27],[-26,-25.5],[-27.5,-27.8],[-27,-25.5],[-27,-27.5],[-28.3,-26.5],[-32,-26],[-31,-27]];
const dense4k=[[-5.5,-7.5],[-4,-7.8],[-5,-7],[-4.5,-8],[-5.5,-8],[-3.8,-7.3]];
const dense4l=[[-8,-4],[-6,-2],[-7.5,-1.5],[-5.5,-4.5],[-7,-4],[-5.2,-2.5],[-7.8,-2.5],[-6.5,-4.8],[-6,-1],[-8.3,-.5]];
const dense4m=[[-20,-4.5],[-18,-3],[-19.5,-6],[-18.5,-4],[-20.5,-5.5],[-18,-5.5],[-16.5,-7.5],[-14.5,-7.7],[-16,-8],[-17.5,-7],[-16,-6.5],[-15,-8.5]];
const dense4n=[[-20,-15.3],[-18,-15.7],[-20.5,-16],[-18.2,-15.5],[-19.5,-15.8],[-18.5,-16.2]];
const detail4a=[[-29,-1],[-27,1],[-24.5,-1.5],[-23,1],[-24,.5],[-21,-1],[-19,-2],[-21.5,-5],[-17,-3.8],[-18,-1.5],[-16,.8],[-14.5,1.8],[-19,1.8],[-17,.8],[-15.5,-1]];
const detail4b=[[-8,-2],[-6.5,-5],[-5,-1],[-3,-4],[-4,-1.5],[-2.5,-2.5],[-7,.5],[-5.5,-2.5],[-4.5,-4.5],[-3,-3],[-2,-1.5]];
const detail4c=[[-27,-42],[-26,-44.5],[-24,-41.5],[-25,-43],[-22.5,-42.5],[-28,-44],[-26.5,-47.5],[-23,-44],[-21.5,-42.5],[-24.5,-41]];
const detail4d=[[-27.5,-31],[-25,-30.5],[-24,-32],[-22.5,-31],[-26,-32.5],[-28,-36],[-26,-37.5],[-24.5,-36.5],[-26,-35]];
const detail4e=[[-24,-28],[-27,-28],[-25,-25.5],[-23,-26],[-26.5,-29],[-24,-27.5],[-29,-26]];

const panels=[
 {id:'c1',segs:[walk1,dense1a,dense1b,dense1c,dense1d,dense1e,dense1f,dense1g,dense1h,dense1i,detail1j,detail1k],xt:xTicks1,yt:yTicks1,l:0,t:0,px:29,py:7.5,pw:357.5,ph:282,lp:4},
 {id:'c2',segs:[walk2,dense2a,dense2b,dense2c,dense2d,dense2e,dense2f,dense2g,dense2h,dense2i,detail2a,detail2b,detail2c,detail2d,detail2e],xt:xTicks2,yt:yTicks2,l:440,t:0,px:56,py:7.5,pw:357.5,ph:282,lp:4},
 {id:'c3',segs:[walk3,dense3a,dense3b,dense3c,dense3d,dense3e,dense3f,dense3g,dense3h,detail3a,detail3b,detail3c,detail3d],xt:xTicks3,yt:yTicks3,l:0,t:340,px:26,py:16,pw:357.5,ph:282,lp:5},
 {id:'c4',segs:[walk4,walk4b,dense4a,dense4b,dense4c,dense4d,dense4e,dense4f,dense4g,dense4h,dense4i,dense4j,dense4k,dense4l,dense4m,dense4n,detail4a,detail4b,detail4c,detail4d,detail4e],xt:xTicks4,yt:yTicks4,l:440,t:340,px:53,py:16,pw:357.5,ph:282,lp:5}
];
const innerTicks={id:'innerTicks',afterDatasetsDraw(chart){
  const {ctx,chartArea:a,scales:{x,y}}=chart;
  ctx.save();ctx.strokeStyle='#000';ctx.lineWidth=1;ctx.beginPath();
  x.ticks.slice(1,-1).forEach(t=>{const p=Math.round(x.getPixelForValue(t.value))+.5;
    ctx.moveTo(p,a.bottom);ctx.lineTo(p,a.bottom-3);ctx.moveTo(p,a.top);ctx.lineTo(p,a.top+3);});
  y.ticks.slice(1,-1).forEach(t=>{const p=Math.round(y.getPixelForValue(t.value))+.5;
    ctx.moveTo(a.left,p);ctx.lineTo(a.left+3,p);ctx.moveTo(a.right,p);ctx.lineTo(a.right-3,p);});
  ctx.stroke();
  ctx.strokeRect(a.left,a.top,a.right-a.left,a.bottom-a.top);
  ctx.restore();
}};
panels.forEach(p=>{
  const W=Math.ceil(p.px+p.pw+16),H=Math.ceil(p.py+p.ph+22);
  const el=document.getElementById(p.id);
  el.width=W;el.height=H;el.style.left=p.l+'px';el.style.top=p.t+'px';el.style.width=W+'px';el.style.height=H+'px';
  const tickStyle={color:'#333',font:{family:'"Liberation Sans",Arial,sans-serif',size:8},maxRotation:0,autoSkip:false};
  new Chart(el,{type:'scatter',
    data:{datasets:p.segs.map(seg=>({data:seg.map(([x,y])=>({x,y})),showLine:true,borderColor:'#000',borderWidth:1.15,pointRadius:0,tension:0,fill:false}))},
    plugins:[innerTicks],
    options:{responsive:false,animation:false,devicePixelRatio:1,
      layout:{padding:{left:0,top:p.py,right:W-p.px-p.pw,bottom:H-p.py-p.ph-22}},
      plugins:{legend:{display:false},tooltip:{enabled:false},title:{display:false}},
      scales:{
        x:{type:'linear',min:p.xt[0],max:p.xt[p.xt.length-1],grid:{display:false,drawTicks:false,tickLength:0},border:{display:false},
           afterBuildTicks:s=>{s.ticks=p.xt.map(v=>({value:v}));},ticks:{...tickStyle,padding:p.lp,callback:v=>String(v)},afterFit:s=>{s.height=22;}},
        y:{type:'linear',min:p.yt[0],max:p.yt[p.yt.length-1],grid:{display:false,drawTicks:false,tickLength:0},border:{display:false},
           afterBuildTicks:s=>{s.ticks=p.yt.map(v=>({value:v}));},ticks:{...tickStyle,padding:4,callback:v=>String(v)},afterFit:s=>{s.width=p.px;}}
      }}});
});
</script></body></html>
